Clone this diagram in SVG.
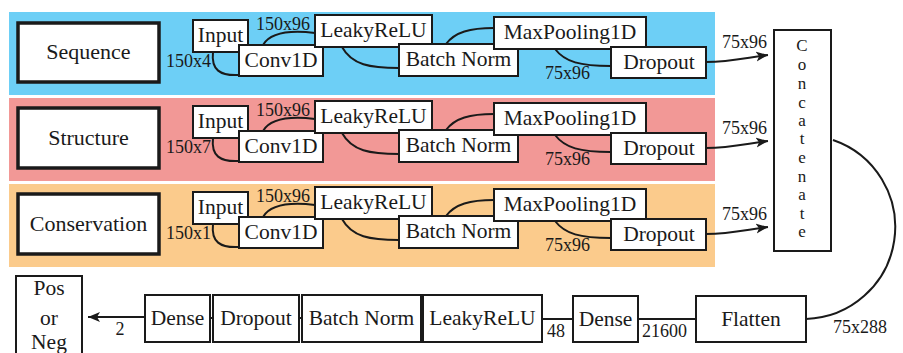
<svg xmlns="http://www.w3.org/2000/svg" width="903" height="353" viewBox="0 0 903 353">
<defs>
<style>
text{fill:#1a1a1a;font-family:"Liberation Serif","Times New Roman",serif}
.n{fill:#fff;stroke:#1a1a1a;stroke-width:2}
.big{fill:#fff;stroke:#1a1a1a;stroke-width:3.5}
.t{font-size:21.5px;text-anchor:middle}
.tb{font-size:22px;text-anchor:middle}
.l{font-size:18px}
.c{font-size:17px;text-anchor:middle}
.e{fill:none;stroke:#1a1a1a;stroke-width:2}
</style>
<marker id="ah" markerWidth="13" markerHeight="11" refX="12" refY="5" orient="auto" markerUnits="userSpaceOnUse">
<path d="M0,0 L12,5 L0,10 L3,5 z" fill="#1a1a1a"/>
</marker>
</defs>
<rect width="903" height="353" fill="#fff"/>
<rect x="9" y="12" width="706" height="83" fill="#6dcff6"/>
<rect x="9" y="98" width="706" height="83" fill="#f29896"/>
<rect x="9" y="184" width="706" height="83" fill="#fbcb8c"/>

<g id="connectors">
<g id="band1-edges">
<path class="e" d="M213,52 C211,70 220,76 239,75"/>
<path class="e" d="M263,45 C270,33 290,30 315,33"/>
<path class="e" d="M342,47 C352,65 370,68 399,68"/>
<path class="e" d="M446,44 C455,32 470,28 494,28"/>
<path class="e" d="M555,49 C565,62 580,66 611,66"/>
<path class="e" d="M706,62 C730,62 745,58 768,55" marker-end="url(#ah)"/>
<text class="l" x="256" y="30">150x96</text>
<text class="l" x="166" y="67">150x4</text>
<text class="l" x="545" y="79">75x96</text>
<text class="l" x="722" y="48">75x96</text>
</g>
<g id="band2-edges" transform="translate(0,86)">
<path class="e" d="M213,52 C211,70 220,76 239,75"/>
<path class="e" d="M263,45 C270,33 290,30 315,33"/>
<path class="e" d="M342,47 C352,65 370,68 399,68"/>
<path class="e" d="M446,44 C455,32 470,28 494,28"/>
<path class="e" d="M555,49 C565,62 580,66 611,66"/>
<path class="e" d="M706,62 C730,62 745,58 768,55" marker-end="url(#ah)"/>
<text class="l" x="256" y="30">150x96</text>
<text class="l" x="166" y="67">150x7</text>
<text class="l" x="545" y="79">75x96</text>
<text class="l" x="722" y="48">75x96</text>
</g>
<g id="band3-edges" transform="translate(0,172)">
<path class="e" d="M213,52 C211,70 220,76 239,75"/>
<path class="e" d="M263,45 C270,33 290,30 315,33"/>
<path class="e" d="M342,47 C352,65 370,68 399,68"/>
<path class="e" d="M446,44 C455,32 470,28 494,28"/>
<path class="e" d="M555,49 C565,62 580,66 611,66"/>
<path class="e" d="M706,62 C730,62 745,58 768,55" marker-end="url(#ah)"/>
<text class="l" x="256" y="30">150x96</text>
<text class="l" x="166" y="67">150x1</text>
<text class="l" x="545" y="79">75x96</text>
<text class="l" x="722" y="48">75x96</text>
</g>
<path class="e" d="M833,140 A92,92 0 0 1 806,319"/>
<text class="l" x="833" y="333">75x288</text>
<path class="e" d="M696,319 L638,319"/>
<text class="l" x="642" y="337">21600</text>
<path class="e" d="M573,319 L542,319"/>
<text class="l" x="547" y="337">48</text>
<path class="e" d="M423,318 L421,318 M302,318 L299,318 M213,318 L210,318"/>
<path class="e" d="M145,317 L88,317" marker-end="url(#ah)"/>
<text class="l" x="120" y="335" text-anchor="middle">2</text>
</g>

<g id="sequence"><rect class="big" x="18" y="23" width="141" height="59"/><text class="tb" x="88.5" y="59">Sequence</text></g>
<g id="input1"><rect class="n" x="193" y="20" width="55" height="32"/><text class="t" x="220.5" y="42">Input</text></g>
<g id="conv1"><rect class="n" x="239" y="45" width="84" height="31"/><text class="t" x="281" y="67">Conv1D</text></g>
<g id="leaky1"><rect class="n" x="315" y="15" width="117" height="32"/><text class="t" x="373.5" y="37">LeakyReLU</text></g>
<g id="bn1"><rect class="n" x="399" y="44" width="119" height="32"/><text class="t" x="458.5" y="66">Batch Norm</text></g>
<g id="pool1"><rect class="n" x="494" y="17" width="152" height="32"/><text class="t" x="570" y="39">MaxPooling1D</text></g>
<g id="drop1"><rect class="n" x="611" y="47" width="95" height="31"/><text class="t" x="659" y="68.5">Dropout</text></g>

<g transform="translate(0,86)">
<g id="structure"><rect class="big" x="18" y="22" width="141" height="60"/><text class="tb" x="88.5" y="59">Structure</text></g>
<g id="input2"><rect class="n" x="193" y="20" width="55" height="32"/><text class="t" x="220.5" y="42">Input</text></g>
<g id="conv2"><rect class="n" x="239" y="45" width="84" height="31"/><text class="t" x="281" y="67">Conv1D</text></g>
<g id="leaky2"><rect class="n" x="315" y="15" width="117" height="32"/><text class="t" x="373.5" y="37">LeakyReLU</text></g>
<g id="bn2"><rect class="n" x="399" y="44" width="119" height="32"/><text class="t" x="458.5" y="66">Batch Norm</text></g>
<g id="pool2"><rect class="n" x="494" y="17" width="152" height="32"/><text class="t" x="570" y="39">MaxPooling1D</text></g>
<g id="drop2"><rect class="n" x="611" y="47" width="95" height="31"/><text class="t" x="659" y="68.5">Dropout</text></g>
</g>

<g transform="translate(0,172)">
<g id="conservation"><rect class="big" x="18" y="22" width="141" height="60"/><text class="tb" x="88.5" y="59">Conservation</text></g>
<g id="input3"><rect class="n" x="193" y="20" width="55" height="32"/><text class="t" x="220.5" y="42">Input</text></g>
<g id="conv3"><rect class="n" x="239" y="45" width="84" height="31"/><text class="t" x="281" y="67">Conv1D</text></g>
<g id="leaky3"><rect class="n" x="315" y="15" width="117" height="32"/><text class="t" x="373.5" y="37">LeakyReLU</text></g>
<g id="bn3"><rect class="n" x="399" y="44" width="119" height="32"/><text class="t" x="458.5" y="66">Batch Norm</text></g>
<g id="pool3"><rect class="n" x="494" y="17" width="152" height="32"/><text class="t" x="570" y="39">MaxPooling1D</text></g>
<g id="drop3"><rect class="n" x="611" y="47" width="95" height="31"/><text class="t" x="659" y="68.5">Dropout</text></g>
</g>

<g id="concatenate">
<rect class="n" x="774" y="30" width="57" height="221"/>
<text class="c" x="802" y="51">C</text>
<text class="c" x="802" y="70">o</text>
<text class="c" x="802" y="89">n</text>
<text class="c" x="802" y="108">c</text>
<text class="c" x="802" y="126">a</text>
<text class="c" x="802" y="144">t</text>
<text class="c" x="802" y="163">e</text>
<text class="c" x="802" y="182">n</text>
<text class="c" x="802" y="200">a</text>
<text class="c" x="802" y="219">t</text>
<text class="c" x="802" y="237">e</text>
</g>

<g id="flatten"><rect class="n" x="696" y="296" width="110" height="46"/><text class="t" x="751" y="326">Flatten</text></g>
<g id="dense2"><rect class="n" x="573" y="296" width="65" height="46"/><text class="t" x="605.5" y="326">Dense</text></g>
<g id="leaky4"><rect class="n" x="423" y="295" width="119" height="47"/><text class="t" x="482.5" y="325">LeakyReLU</text></g>
<g id="bn4"><rect class="n" x="302" y="295" width="119" height="47"/><text class="t" x="361.5" y="325">Batch Norm</text></g>
<g id="drop4"><rect class="n" x="213" y="295" width="86" height="47"/><text class="t" x="256" y="325">Dropout</text></g>
<g id="dense1"><rect class="n" x="145" y="295" width="65" height="47"/><text class="t" x="177.5" y="325">Dense</text></g>
<g id="output"><rect class="n" x="16" y="276" width="66" height="90"/><text class="t" x="49" y="295">Pos</text><text class="t" x="49" y="325">or</text><text class="t" x="49" y="349">Neg</text></g>
</svg>
